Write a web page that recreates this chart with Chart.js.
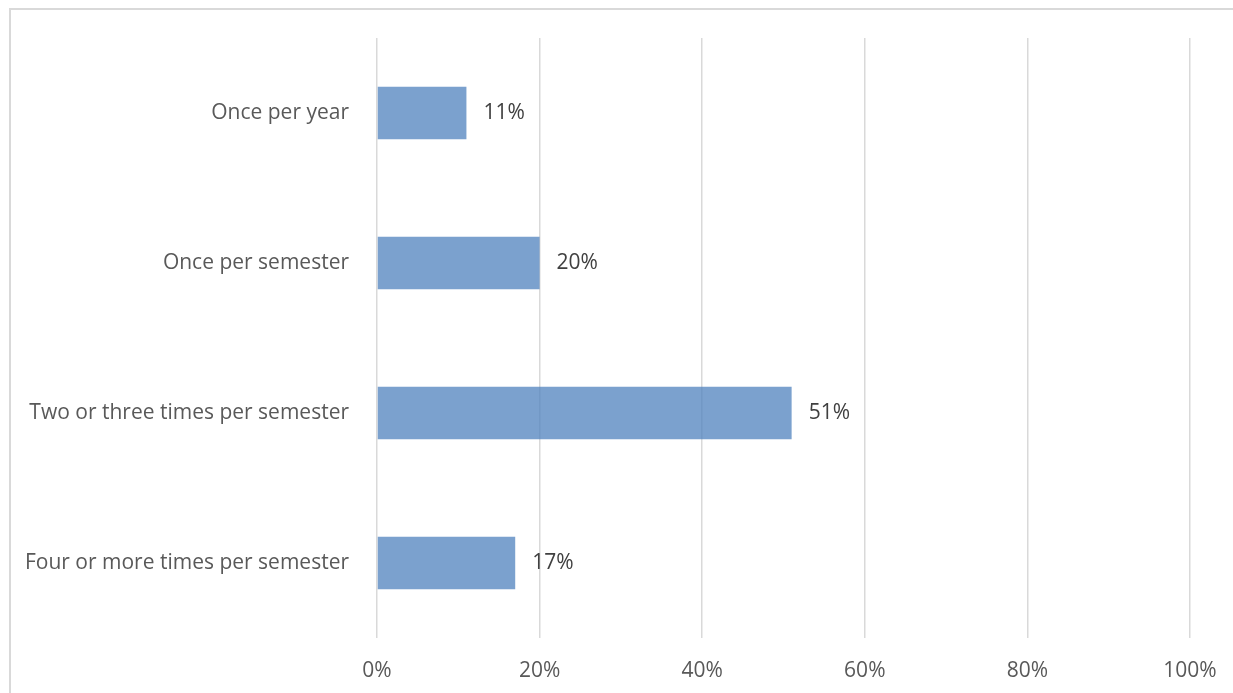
<!DOCTYPE html>
<html lang="en">
<head>
    <meta charset="UTF-8">
    <title>Frequency</title>
    <script src="https://cdn.jsdelivr.net/npm/chart.js"></script>
    <style>
        html, body {
            margin: 0;
            padding: 0;
            width: 1233px;
            height: 693px;
            overflow: hidden;
            background: #ffffff;
        }
        #frame {
            position: absolute;
            left: 9px;
            top: 8px;
            width: 1260px;
            height: 720px;
            border-left: 2px solid #d9d9d9;
            border-top: 2px solid #d9d9d9;
        }
        #chartBox {
            position: absolute;
            left: 0;
            top: 0;
            width: 1233px;
            height: 693px;
        }
    </style>
</head>
<body>
    <div id="frame"></div>
    <div id="chartBox">
        <canvas id="freqChart"></canvas>
    </div>
    <script>
        const categories = [
            'Once per year',
            'Once per semester',
            'Two or three times per semester',
            'Four or more times per semester'
        ];
        const percentValues = [11, 20, 51, 17];
        const tickValues = [0, 20, 40, 60, 80, 100];

        const fontFamily = "'Open Sans', 'Noto Sans', sans-serif";
        const fontSize = 21;

        // draws the "NN%" label just past the end of each bar
        const barLabels = {
            id: 'barLabels',
            afterDatasetsDraw(chart) {
                const ctx = chart.ctx;
                const meta = chart.getDatasetMeta(0);
                ctx.save();
                ctx.font = fontSize + 'px ' + fontFamily;
                ctx.fillStyle = '#404040';
                ctx.textAlign = 'left';
                ctx.textBaseline = 'middle';
                meta.data.forEach(function(bar, i) {
                    ctx.fillText(percentValues[i] + '%', bar.x + 17, bar.y);
                });
                ctx.restore();
            }
        };

        const ctx = document.getElementById('freqChart').getContext('2d');
        const freqChart = new Chart(ctx, {
            type: 'bar',
            data: {
                labels: categories,
                datasets: [{
                    data: percentValues,
                    backgroundColor: 'rgba(79, 129, 189, 0.75)',
                    borderWidth: 0,
                    barPercentage: 0.7,
                    categoryPercentage: 0.5
                }]
            },
            options: {
                indexAxis: 'y',
                responsive: true,
                maintainAspectRatio: false,
                animation: false,
                layout: {
                    padding: { top: 38, right: 43, left: 0, bottom: 0 }
                },
                plugins: {
                    legend: { display: false },
                    tooltip: { enabled: false }
                },
                scales: {
                    x: {
                        min: 0,
                        max: 100,
                        afterBuildTicks: function(scale) {
                            scale.ticks = tickValues.map(v => ({ value: v }));
                        },
                        afterFit: function(scale) {
                            scale.height = 55;
                            // let layout.padding decide the side margins
                            scale.paddingLeft = 0;
                            scale.paddingRight = 0;
                        },
                        grid: {
                            color: '#d9d9d9',
                            lineWidth: 1.5,
                            drawTicks: false
                        },
                        border: { display: false },
                        ticks: {
                            padding: 20,
                            color: '#595959',
                            font: { family: fontFamily, size: fontSize },
                            callback: function(value) {
                                return value + '%';
                            }
                        }
                    },
                    y: {
                        afterFit: function(scale) {
                            scale.width = 377;
                            scale.paddingTop = 0;
                            scale.paddingBottom = 0;
                        },
                        grid: { display: false, drawTicks: false },
                        border: { display: false },
                        ticks: {
                            padding: 28,
                            color: '#595959',
                            font: { family: fontFamily, size: fontSize }
                        }
                    }
                }
            },
            plugins: [barLabels]
        });
    </script>
</body>
</html>
